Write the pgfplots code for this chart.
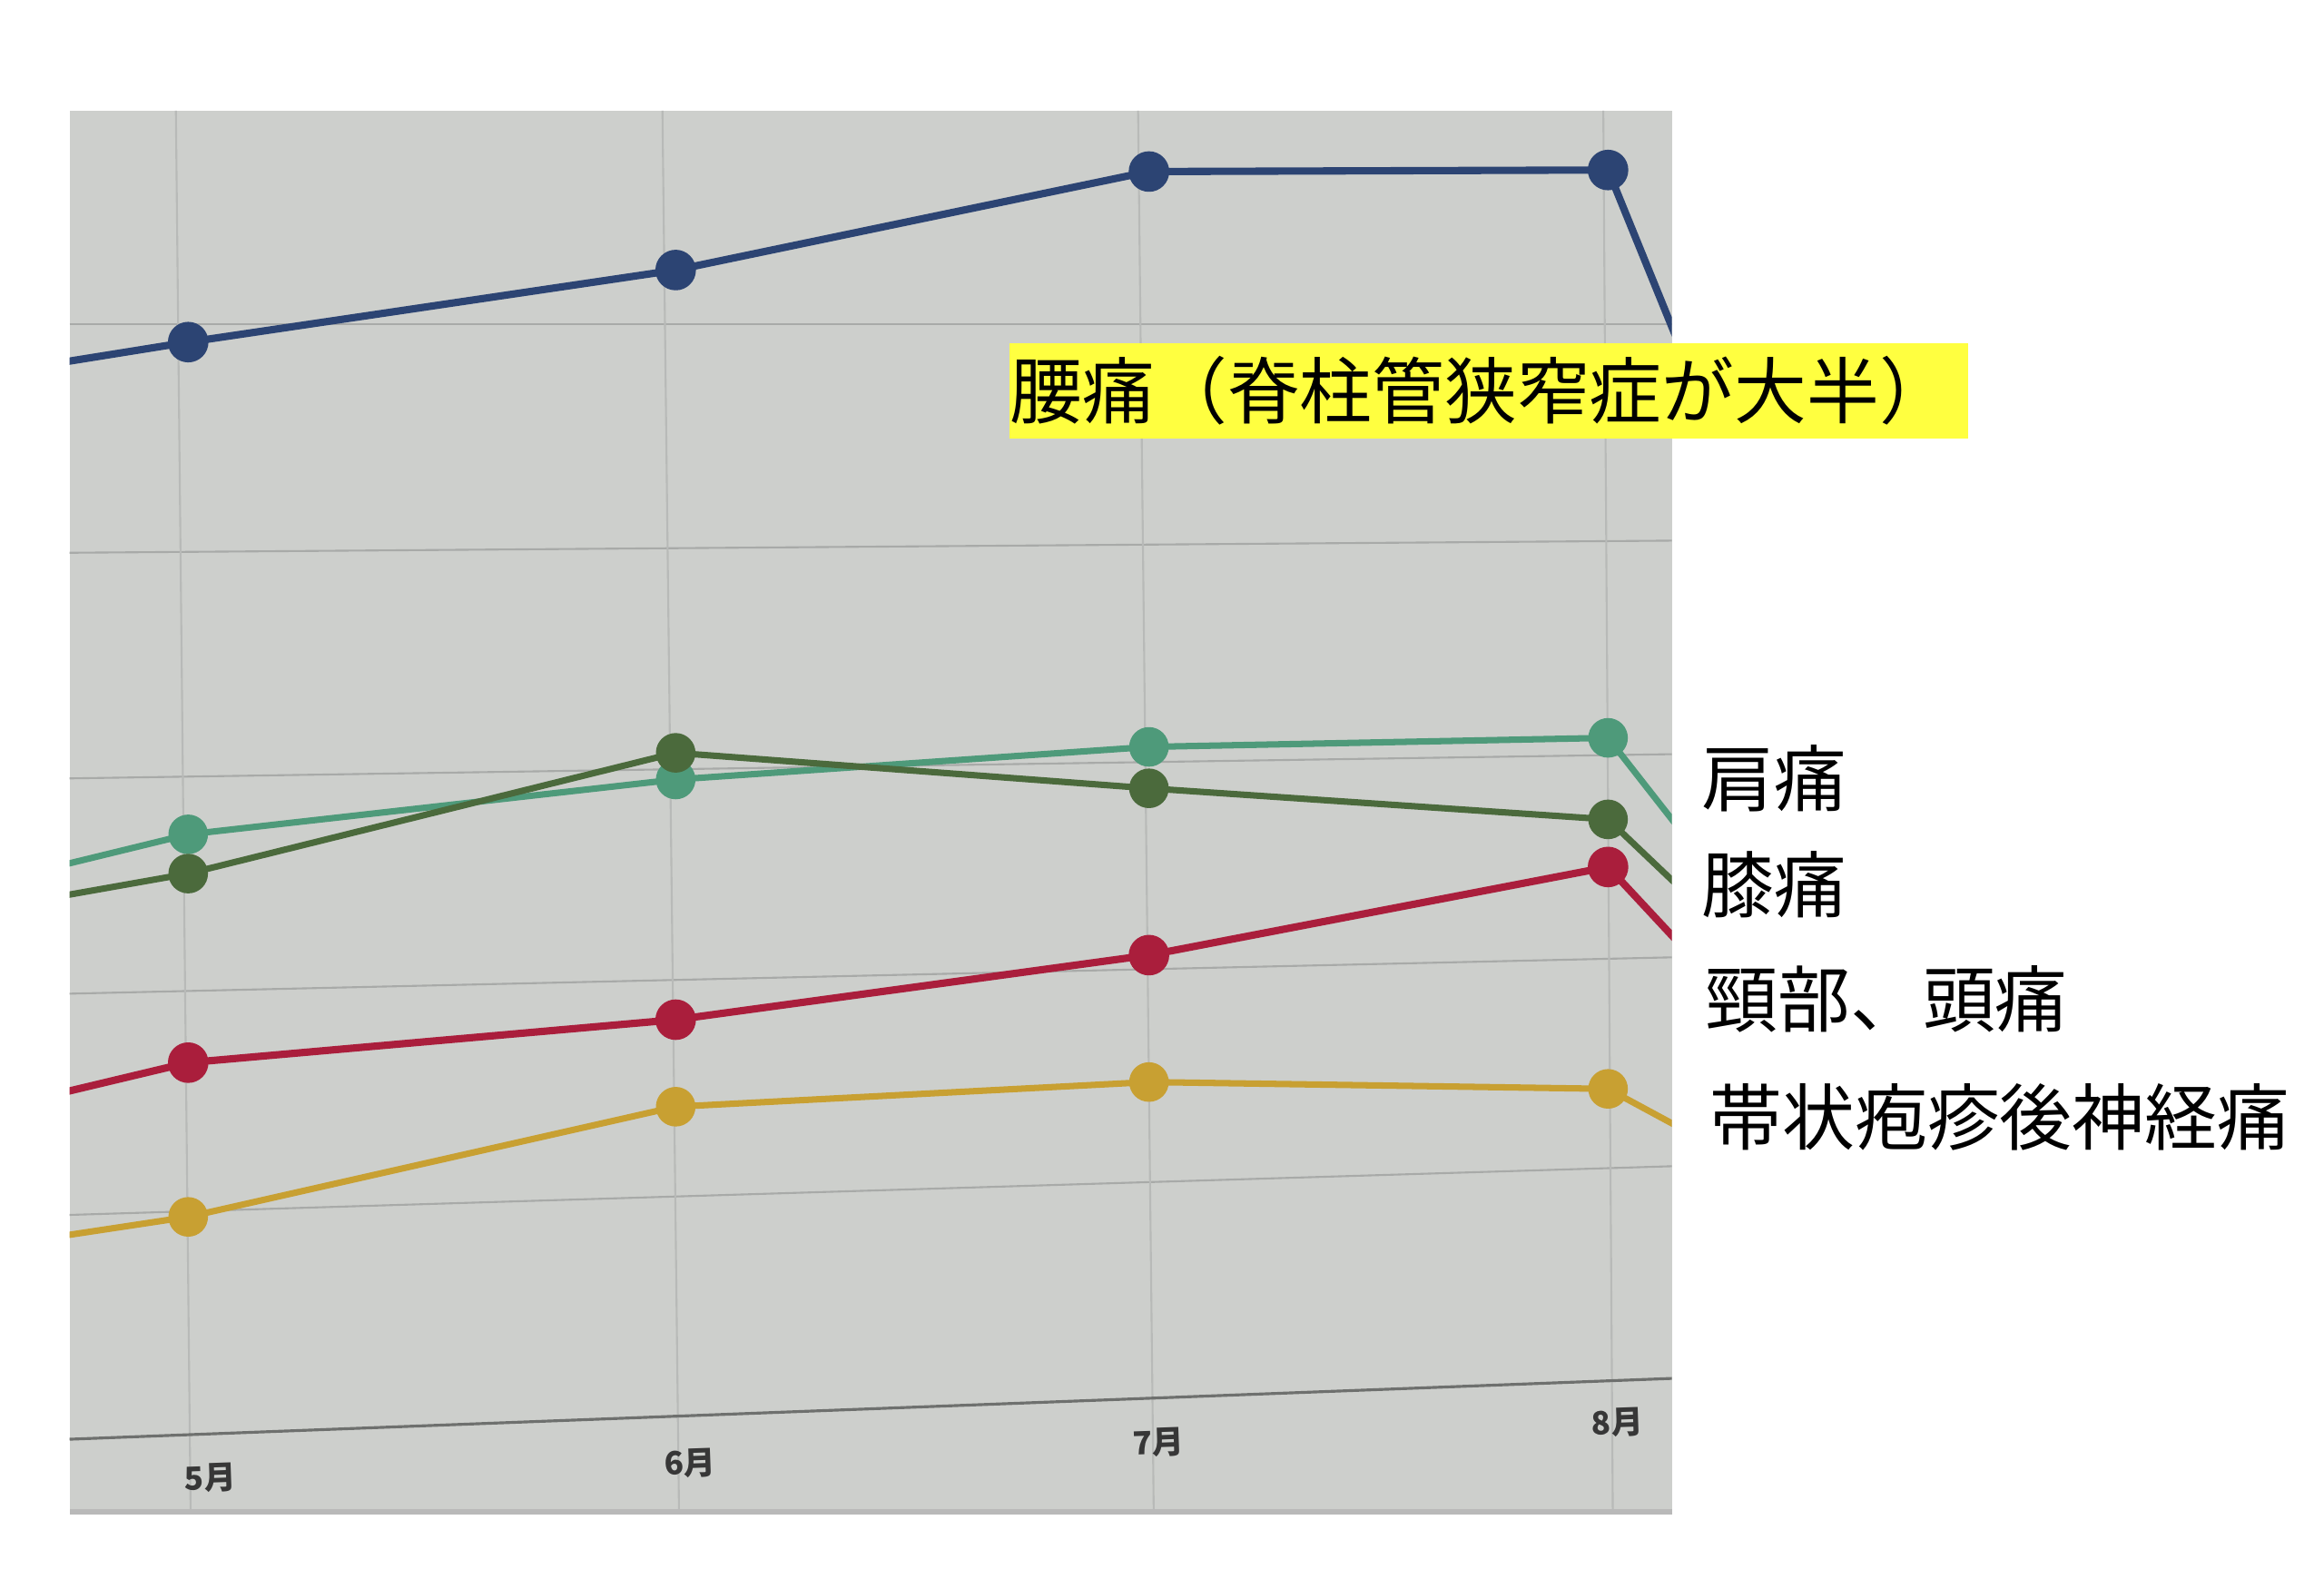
\documentclass[border=0pt]{standalone}
\usepackage{fontspec}
\setmainfont{Noto Sans CJK JP}
\usepackage{pgfplots}
\pgfplotsset{compat=1.18}

\definecolor{bgc}{RGB}{205,207,204}
\definecolor{gridc}{RGB}{168,170,168}
\definecolor{vgridc}{RGB}{184,186,184}
\definecolor{axisc}{RGB}{110,112,110}
\definecolor{bandc}{RGB}{185,185,185}
\definecolor{blueC}{RGB}{44,68,115}
\definecolor{tealC}{RGB}{78,154,122}
\definecolor{oliveC}{RGB}{75,106,60}
\definecolor{redC}{RGB}{170,30,60}
\definecolor{yelC}{RGB}{200,160,50}
\definecolor{hiC}{RGB}{255,255,64}
\definecolor{tickc}{RGB}{55,55,55}

\begin{document}
\begin{tikzpicture}
\fill[bandc] (0.767cm,0.82cm) rectangle (18.416cm,0.88cm);
\begin{axis}[
  at={(0.767cm,0.88cm)}, anchor=south west,
  width=17.65cm, height=15.40cm, scale only axis,
  xmin=-0.2505, xmax=3.135, ymin=-3.57, ymax=59.89,
  axis line style={draw=none},
  xtick=\empty, ytick=\empty,
  axis background/.style={fill=bgc},
  clip marker paths=true,
  every axis plot/.append style={line join=round},
]
% horizontal gridlines (photo perspective: slightly sloped)
\addplot[gridc, line width=0.6pt] coordinates {(-0.2505,9.78) (3.135,11.99)};
\addplot[gridc, line width=0.6pt] coordinates {(-0.2505,19.82) (3.135,21.47)};
\addplot[gridc, line width=0.6pt] coordinates {(-0.2505,29.59) (3.135,30.69)};
\addplot[gridc, line width=0.6pt] coordinates {(-0.2505,39.83) (3.135,40.38)};
\addplot[gridc, line width=0.6pt] coordinates {(-0.2505,50.2) (3.135,50.2)};
% vertical gridlines
\addplot[vgridc, line width=0.6pt] coordinates {(-0.026,59.89) (0.005,-3.57)};
\addplot[vgridc, line width=0.6pt] coordinates {(1.002,59.89) (1.037,-3.57)};
\addplot[vgridc, line width=0.6pt] coordinates {(2.007,59.89) (2.040,-3.57)};
\addplot[vgridc, line width=0.6pt] coordinates {(2.99,59.89) (3.01,-3.57)};
% x axis line
\addplot[axisc, line width=0.9pt] coordinates {(-0.2505,-0.40) (3.135,2.36)};

% series: 4月(off-chart), 5月, 6月, 7月, 8月, 9月(off-chart)
\addplot[blueC, line width=2.3pt, mark=*, mark size=5.2pt, mark indices={1,2,3,4}]
  coordinates {(-1,45.95) (0,49.39) (1.03,52.66) (2.03,57.13) (3,57.20) (4,4.4)};
\addplot[tealC, line width=2.0pt, mark=*, mark size=5.2pt, mark indices={1,2,3,4}]
  coordinates {(-1,21.81) (0,27.05) (1.03,29.54) (2.03,31.02) (3,31.43) (4,4.0)};
\addplot[oliveC, line width=2.0pt, mark=*, mark size=5.2pt, mark indices={1,2,3,4}]
  coordinates {(-1,21.47) (0,25.27) (1.03,30.75) (2.03,29.14) (3,27.73) (4,7.3)};
\addplot[redC, line width=2.3pt, mark=*, mark size=5.2pt, mark indices={1,2,3,4}]
  coordinates {(-1,11.57) (0,16.69) (1.03,18.64) (2.03,21.57) (3,25.57) (4,2.5)};
\addplot[yelC, line width=2.0pt, mark=*, mark size=5.2pt, mark indices={1,2,3,4}]
  coordinates {(-1,6.45) (0,9.69) (1.03,14.69) (2.03,15.81) (3,15.50) (4,3.9)};

% month labels
\node[rotate=2, text=tickc, font=\bfseries\fontsize{10pt}{12pt}\selectfont] at (axis cs:0.047,-2.15) {5月};
\node[rotate=2, text=tickc, font=\bfseries\fontsize{10pt}{12pt}\selectfont] at (axis cs:1.06,-1.48) {6月};
\node[rotate=2, text=tickc, font=\bfseries\fontsize{10pt}{12pt}\selectfont] at (axis cs:2.05,-0.54) {7月};
\node[rotate=2, text=tickc, font=\bfseries\fontsize{10pt}{12pt}\selectfont] at (axis cs:3.02,0.34) {8月};
\end{axis}

% highlighted label
\fill[hiC] (11.12cm,12.67cm) rectangle (21.68cm,13.72cm);
\node[anchor=west, inner sep=0pt, font=\fontsize{22.7pt}{26pt}\selectfont] at (11.12cm,13.195cm) {腰痛（脊柱管狭窄症が大半）};
% right-hand labels
\node[anchor=west, inner sep=0pt, font=\fontsize{22.7pt}{26pt}\selectfont] at (18.74cm,8.93cm) {肩痛};
\node[anchor=west, inner sep=0pt, font=\fontsize{22.7pt}{26pt}\selectfont] at (18.74cm,7.76cm) {膝痛};
\node[anchor=west, inner sep=0pt, font=\fontsize{22.7pt}{26pt}\selectfont] at (18.78cm,6.50cm) {頸部、頭痛};
\node[anchor=west, inner sep=0pt, font=\fontsize{22.7pt}{26pt}\selectfont] at (18.83cm,5.20cm) {帯状疱疹後神経痛};

\pgfresetboundingbox
\path[use as bounding box] (0,0) rectangle (25.6cm,17.5cm);
\end{tikzpicture}
\end{document}
